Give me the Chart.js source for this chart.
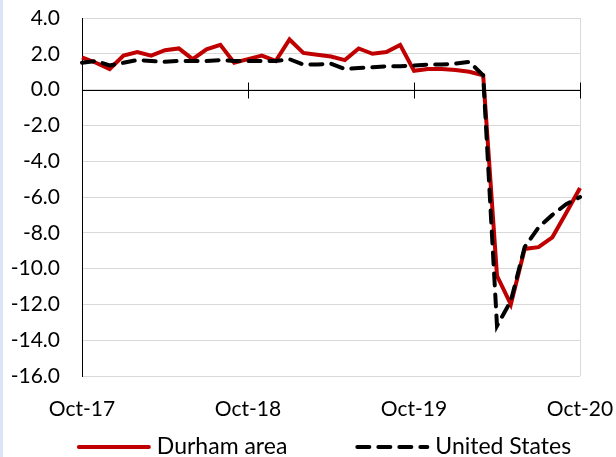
<!DOCTYPE html>
<html>
<head>
<meta charset="utf-8">
<script src="https://cdn.jsdelivr.net/npm/chart.js@4.4.0/dist/chart.umd.min.js"></script>
<style>
  html, body { margin: 0; padding: 0; background: #fff; }
  #wrap { position: relative; width: 616px; height: 457px; }
  #strip { position: absolute; left: 0; top: 0; width: 3px; height: 457px; background: #dae5f6; }
  canvas { position: absolute; left: 0; top: 0; }
</style>
</head>
<body>
<div id="wrap">
  <div id="strip"></div>
  <canvas id="jobsChart" width="616" height="457"></canvas>
</div>
<script>
// Year-over-year employment change (%), monthly Oct-17 .. Oct-20
const months = [
  'Oct-17', 'Nov-17', 'Dec-17', 'Jan-18', 'Feb-18', 'Mar-18', 'Apr-18', 'May-18', 'Jun-18', 'Jul-18', 'Aug-18', 'Sep-18',
  'Oct-18', 'Nov-18', 'Dec-18', 'Jan-19', 'Feb-19', 'Mar-19', 'Apr-19', 'May-19', 'Jun-19', 'Jul-19', 'Aug-19', 'Sep-19',
  'Oct-19', 'Nov-19', 'Dec-19', 'Jan-20', 'Feb-20', 'Mar-20', 'Apr-20', 'May-20', 'Jun-20', 'Jul-20', 'Aug-20', 'Sep-20',
  'Oct-20'
];
const durham = [
  1.8, 1.5, 1.15, 1.9, 2.1, 1.9, 2.2, 2.3, 1.7, 2.25, 2.5, 1.5,
  1.7, 1.9, 1.6, 2.8, 2.05, 1.95, 1.85, 1.65, 2.3, 2.0, 2.1, 2.5,
  1.05, 1.15, 1.15, 1.1, 1.0, 0.8, -10.4, -12.0, -8.9, -8.8, -8.25, -6.9,
  -5.5
];
const unitedStates = [
  1.5, 1.6, 1.35, 1.5, 1.65, 1.6, 1.55, 1.6, 1.6, 1.6, 1.65, 1.6,
  1.6, 1.6, 1.6, 1.7, 1.4, 1.4, 1.45, 1.15, 1.2, 1.25, 1.3, 1.3,
  1.35, 1.4, 1.4, 1.45, 1.55, 0.8, -13.2, -11.8, -8.8, -7.7, -7.0, -6.4,
  -6.0
];
const yTicks = { min: -16, max: 4, step: 2 };
const seriesNames = ['Durham area', 'United States'];

const FONT = 'Lato, "Liberation Sans", sans-serif';
const DASH = [12, 9];

// black zero line with year tick marks
const zeroAxis = {
  id: 'zeroAxis',
  beforeDatasetsDraw(chart) {
    const { ctx, chartArea } = chart;
    const x = chart.scales.x, y = chart.scales.y;
    const y0 = Math.round(y.getPixelForValue(0)) + 0.5;
    ctx.save();
    ctx.strokeStyle = '#000';
    ctx.lineWidth = 1;
    ctx.beginPath();
    ctx.moveTo(chartArea.left, y0);
    ctx.lineTo(chartArea.right, y0);
    months.forEach((m, i) => {
      if (i > 0 && i % 12 === 0) {
        const px = Math.round(x.getPixelForValue(i)) + 0.5;
        ctx.moveTo(px, y0 - 8);
        ctx.lineTo(px, y0 + 8);
      }
    });
    ctx.stroke();
    ctx.restore();
  }
};

// legend row under the axis: long line sample + name for each series
const lineLegend = {
  id: 'lineLegend',
  afterDraw(chart) {
    const { ctx } = chart;
    const sample = 74, gapText = 6, gapItem = 68, cy = 447;
    ctx.save();
    ctx.font = '23px ' + FONT;
    ctx.textBaseline = 'middle';
    const items = chart.data.datasets.map(ds => ({ ds, w: ctx.measureText(ds.label).width }));
    const total = items.reduce((s, it) => s + sample + gapText + it.w, 0) + gapItem * (items.length - 1);
    let x = 324 - total / 2;
    items.forEach(({ ds, w }) => {
      ctx.beginPath();
      ctx.strokeStyle = ds.borderColor;
      ctx.lineWidth = ds.borderWidth;
      ctx.lineCap = 'round';
      ctx.setLineDash(ds.borderDash || []);
      ctx.moveTo(x + 2, cy);
      ctx.lineTo(x + sample - 2, cy);
      ctx.stroke();
      ctx.setLineDash([]);
      ctx.fillStyle = '#000';
      ctx.fillText(ds.label, x + sample + gapText, cy);
      x += sample + gapText + w + gapItem;
    });
    ctx.restore();
  }
};

new Chart(document.getElementById('jobsChart').getContext('2d'), {
  type: 'line',
  data: {
    labels: months,
    datasets: [{
      label: seriesNames[0],
      data: durham,
      borderColor: '#c00000',
      backgroundColor: '#c00000',
      borderWidth: 4,
      pointRadius: 0,
      tension: 0,
      order: 1
    }, {
      label: seriesNames[1],
      data: unitedStates,
      borderColor: '#000',
      backgroundColor: '#000',
      borderWidth: 4,
      borderDash: DASH,
      borderCapStyle: 'round',
      pointRadius: 0,
      tension: 0,
      order: 0
    }]
  },
  options: {
    responsive: false,
    animation: false,
    layout: { padding: { left: 0, right: 36, top: 18, bottom: 35 } },
    scales: {
      x: {
        grid: {
          drawTicks: false,
          color: c => (c.index === months.length - 1 ? '#d9d9d9' : 'rgba(0,0,0,0)')
        },
        border: { display: false },
        ticks: {
          autoSkip: false,
          maxRotation: 0,
          padding: 21,
          color: '#000',
          font: { family: FONT, size: 21 },
          callback: (v, i) => (i % 12 === 0 ? months[i] : '')
        },
        afterFit: s => { s.height = 46; s.paddingLeft = 0; s.paddingRight = 0; }
      },
      y: {
        min: yTicks.min,
        max: yTicks.max,
        grid: { drawTicks: false, color: '#d9d9d9' },
        border: { display: true, color: '#000', width: 1 },
        ticks: {
          stepSize: yTicks.step,
          autoSkip: false,
          padding: 22,
          color: '#000',
          font: { family: FONT, size: 21 },
          callback: v => v.toFixed(1)
        },
        afterFit: s => { s.width = 82; s.paddingTop = 0; s.paddingBottom = 0; }
      }
    },
    plugins: {
      tooltip: { enabled: false },
      legend: { display: false }
    }
  },
  plugins: [zeroAxis, lineLegend]
});
</script>
</body>
</html>
